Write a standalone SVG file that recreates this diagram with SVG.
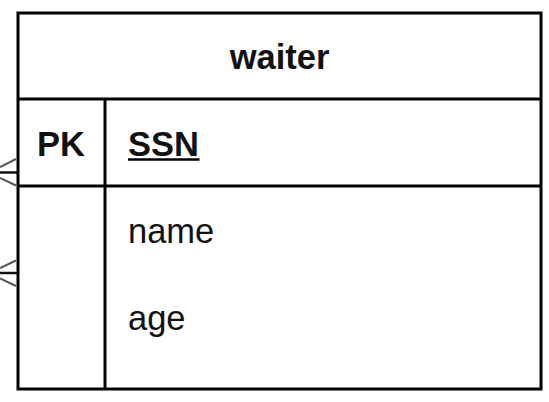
<svg xmlns="http://www.w3.org/2000/svg" width="549" height="402" viewBox="0 0 549 402">
<style>
.ln{stroke:#000;stroke-width:3;fill:none}
.t{font-family:"Liberation Sans",Arial,sans-serif;font-size:34.5px;fill:#111}
.b{font-weight:bold}
.cf{stroke:#555;stroke-width:2;fill:none}
.cfh{stroke:#111;stroke-width:2.5;fill:none}
</style>
<rect width="549" height="402" fill="#fff"/>
<g id="connectors">
<path class="cf" d="M0 167 L16 159 M0 178 L16 185.5"/>
<path class="cfh" d="M0 172.5 L17 172.5"/>
<path class="cf" d="M0 268 L16 260.5 M0 278.5 L16 286"/>
<path class="cfh" d="M0 273 L17 273"/>
</g>
<g id="waiter">
<rect class="ln" x="18" y="13" width="523" height="376"/>
<line class="ln" x1="18" y1="99" x2="541" y2="99"/>
<line class="ln" x1="18" y1="186" x2="541" y2="186"/>
<line class="ln" x1="105" y1="99" x2="105" y2="389"/>
<text class="t b" x="279.5" y="68.5" text-anchor="middle">waiter</text>
<text class="t b" x="61" y="155.5" text-anchor="middle">PK</text>
<text class="t b" x="128" y="155.5">SSN</text>
<line x1="128" y1="159.5" x2="199.5" y2="159.5" stroke="#000" stroke-width="2.5"/>
<text class="t" x="128" y="242.5">name</text>
<text class="t" x="128" y="329.5">age</text>
</g>
</svg>
